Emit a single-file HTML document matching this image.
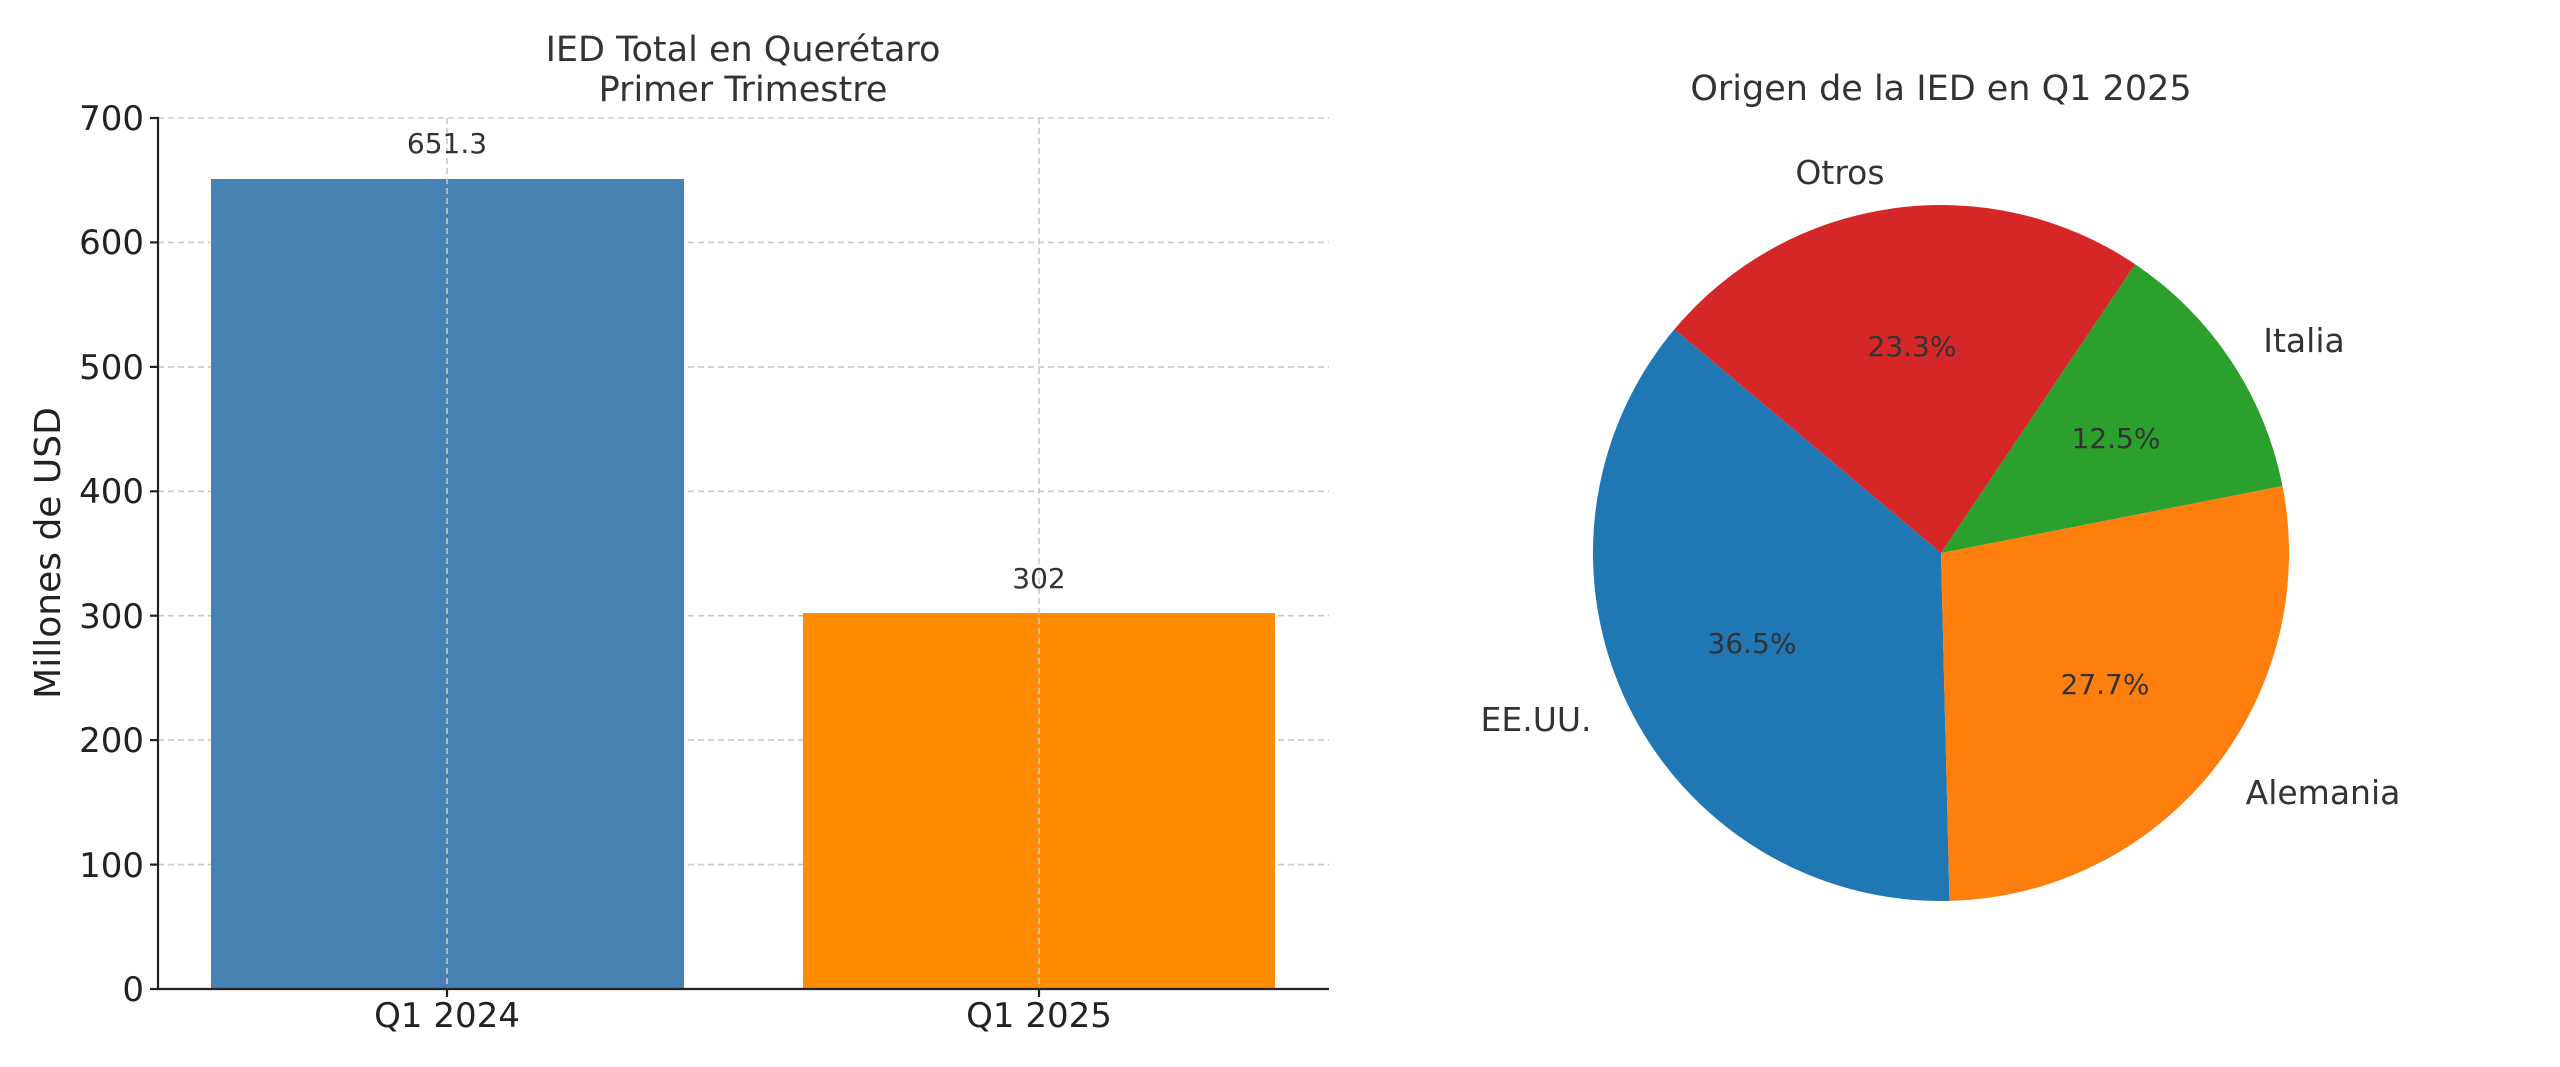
<!DOCTYPE html>
<html><head><meta charset="utf-8"><style>html,body{margin:0;padding:0;background:#fff}svg{display:block}</style></head>
<body>
<svg width="2560" height="1067" viewBox="0 0 2560 1067" xmlns="http://www.w3.org/2000/svg" font-family="DejaVu Sans, Liberation Sans, sans-serif">
<rect width="2560" height="1067" fill="#fff"/>
<g stroke="#c8c8c8" stroke-width="1.6" stroke-dasharray="6,4" fill="none">
<line x1="158" x2="1329" y1="118" y2="118"/>
<line x1="158" x2="1329" y1="242.4" y2="242.4"/>
<line x1="158" x2="1329" y1="366.9" y2="366.9"/>
<line x1="158" x2="1329" y1="491.3" y2="491.3"/>
<line x1="158" x2="1329" y1="615.7" y2="615.7"/>
<line x1="158" x2="1329" y1="740.1" y2="740.1"/>
<line x1="158" x2="1329" y1="864.6" y2="864.6"/>
</g>
<rect x="211" y="179" width="473" height="810" fill="#4682b4"/>
<rect x="803" y="613" width="472" height="376" fill="#ff8c00"/>
<g stroke="#c8c8c8" stroke-width="1.6" stroke-dasharray="6,4" fill="none">
<line x1="447" x2="447" y1="118" y2="989"/>
<line x1="1039" x2="1039" y1="118" y2="989"/>
</g>
<g stroke="#222" stroke-width="2.2">
<line x1="158" y1="117" x2="158" y2="990"/>
<line x1="157" y1="989" x2="1329" y2="989"/>
<line x1="150" x2="158" y1="118" y2="118"/><line x1="150" x2="158" y1="242.4" y2="242.4"/>
<line x1="150" x2="158" y1="366.9" y2="366.9"/><line x1="150" x2="158" y1="491.3" y2="491.3"/>
<line x1="150" x2="158" y1="615.7" y2="615.7"/><line x1="150" x2="158" y1="740.1" y2="740.1"/>
<line x1="150" x2="158" y1="864.6" y2="864.6"/><line x1="150" x2="158" y1="989" y2="989"/>
<line x1="447" x2="447" y1="989" y2="997"/><line x1="1039" x2="1039" y1="989" y2="997"/>
</g>
<g font-size="34" fill="#222" text-anchor="end">
<text x="144" y="130">700</text><text x="144" y="254">600</text><text x="144" y="379">500</text>
<text x="144" y="503">400</text><text x="144" y="628">300</text><text x="144" y="752">200</text>
<text x="144" y="877">100</text><text x="144" y="1001">0</text>
</g>
<g font-size="34" fill="#222" text-anchor="middle">
<text x="447" y="1027">Q1 2024</text><text x="1039" y="1027">Q1 2025</text>
</g>
<text transform="translate(60,553) rotate(-90)" font-size="36" fill="#222" text-anchor="middle">Millones de USD</text>
<g font-size="35" fill="#333" text-anchor="middle">
<text x="743" y="61">IED Total en Querétaro</text>
<text x="743" y="101">Primer Trimestre</text>
</g>
<g font-size="28" fill="#333" text-anchor="middle">
<text x="447" y="153">651.3</text><text x="1039" y="588">302</text>
</g>
<path d="M1941 553 L1674.4 329.3 A348 348 0 0 0 1949.5 900.9 Z" fill="#1f77b4"/>
<path d="M1941 553 L1949.5 900.9 A348 348 0 0 0 2282.5 486 Z" fill="#ff7f0e"/>
<path d="M1941 553 L2282.5 486 A348 348 0 0 0 2135.1 264.2 Z" fill="#2ca02c"/>
<path d="M1941 553 L2135.1 264.2 A348 348 0 0 0 1674.4 329.3 Z" fill="#d62728"/>
<text x="1941" y="100" font-size="35" fill="#333" text-anchor="middle">Origen de la IED en Q1 2025</text>
<g font-size="33" fill="#333" text-anchor="middle">
<text x="1536" y="731">EE.UU.</text>
<text x="2323" y="804">Alemania</text>
<text x="2304" y="352">Italia</text>
<text x="1840" y="184">Otros</text>
</g>
<g font-size="28" fill="#333" text-anchor="middle">
<text x="1752" y="653">36.5%</text>
<text x="2105" y="694">27.7%</text>
<text x="2116" y="448">12.5%</text>
<text x="1912" y="356">23.3%</text>
</g>
</svg>
</body></html>
